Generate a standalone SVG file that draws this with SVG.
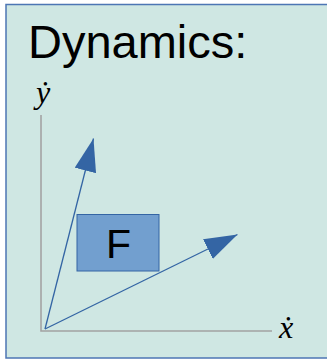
<svg xmlns="http://www.w3.org/2000/svg" width="327" height="359" viewBox="0 0 327 359">
<style>
.frame{fill:#cfe7e3;stroke:#4d76b4;stroke-width:1.5}
.axis{stroke:#a3a3a3;stroke-width:1.6;fill:none}
.vec{stroke:#3465a4;stroke-width:1.3;fill:none}
.box{fill:#729fcf;stroke:#3465a4;stroke-width:1}
.sans{font-family:"Liberation Sans",Arial,sans-serif;fill:#000}
.math{font-family:"Liberation Serif","Times New Roman",serif;font-style:italic;fill:#000}
</style>
<defs>
<marker id="head" markerUnits="userSpaceOnUse" markerWidth="33" markerHeight="22" refX="33" refY="11" orient="auto" viewBox="0 0 33 22">
<path d="M0,0 L33,11 L0,22 Z" fill="#3465a4"/>
</marker>
</defs>
<rect class="frame" x="6" y="4.5" width="330" height="353.5"/>
<text class="sans" x="28" y="58" font-size="47">Dynamics:</text>
<g id="axes">
<polyline class="axis" points="41,115 41,331 272,331"/>
</g>
<g id="label-ydot"><text class="math" x="36" y="103" font-size="32">ẏ</text></g>
<g id="label-xdot"><text class="math" x="279" y="338" font-size="32">ẋ</text></g>
<g id="F">
<rect class="box" x="77" y="214.5" width="82" height="56.5"/>
<text class="sans" x="118.5" y="258" font-size="41" text-anchor="middle">F</text>
</g>
<g id="connectors">
<line class="vec" x1="45" y1="329" x2="93.5" y2="138.5" marker-end="url(#head)"/>
<line class="vec" x1="45" y1="329" x2="237.5" y2="234.5" marker-end="url(#head)"/>
</g>
</svg>
